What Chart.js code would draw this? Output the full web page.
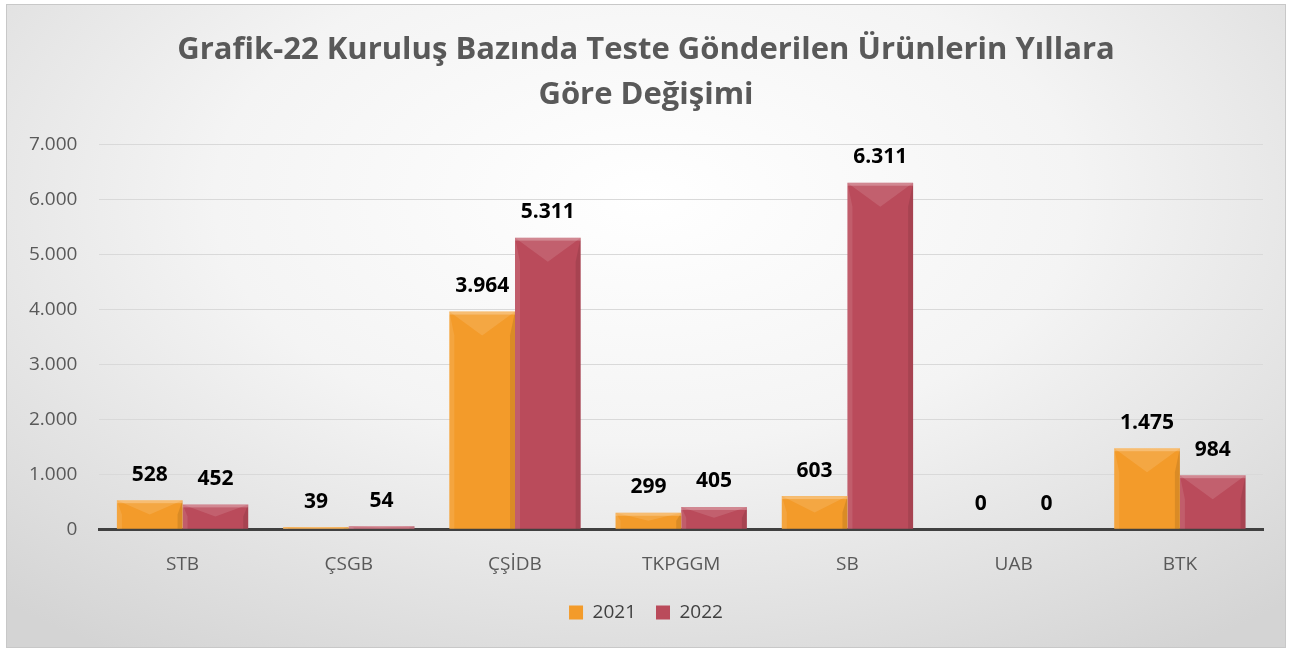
<!DOCTYPE html>
<html>
<head>
<meta charset="utf-8">
<script src="https://cdn.jsdelivr.net/npm/chart.js@4.4.1/dist/chart.umd.min.js"></script>
<style>
  html, body { margin: 0; padding: 0; background: #fff; }
  #wrap {
    position: absolute; left: 6px; top: 4px; width: 1278px; height: 642px;
    border: 1px solid #c8c8c8;
    background: radial-gradient(ellipse 75% 85% at 50% 30%, #ffffff 0%, #f4f4f4 45%, #d4d4d4 100%);
  }
  canvas { display: block; }
</style>
</head>
<body>
<div id="wrap"><canvas id="chart" width="1278" height="642"></canvas></div>
<script>
var categories = ["STB", "ÇSGB", "ÇŞİDB", "TKPGGM", "SB", "UAB", "BTK"];
var values2021 = [528, 39, 3964, 299, 603, 0, 1475];
var values2022 = [452, 54, 5311, 405, 6311, 0, 984];
var seriesNames = ["2021", "2022"];
var titleLines = ["Grafik-22 Kuruluş Bazında Teste Gönderilen Ürünlerin Yıllara", "Göre Değişimi"];

var fontName = "'Open Sans', 'Liberation Sans', sans-serif";

function fmt(v) {
  return v.toString().replace(/\B(?=(\d{3})+(?!\d))/g, ".");
}

// bevel look on the bars
var bevelPlugin = {
  id: "bevel",
  afterDatasetsDraw: function (chart) {
    var ctx = chart.ctx;
    chart.data.datasets.forEach(function (ds, i) {
      var meta = chart.getDatasetMeta(i);
      meta.data.forEach(function (bar) {
        var w = bar.width;
        var l = bar.x - w / 2, r = bar.x + w / 2;
        var t = bar.y, b = bar.base;
        var h = b - t;
        if (h < 1) return;
        var d = Math.min(w / 2, h / 2, 24);
        var s = Math.min(5, w / 4);
        ctx.save();
        // top facet
        ctx.beginPath();
        ctx.moveTo(l, t); ctx.lineTo(r, t); ctx.lineTo(bar.x, t + d); ctx.closePath();
        ctx.fillStyle = "rgba(255,255,255,0.12)";
        ctx.fill();
        // left side
        ctx.beginPath();
        ctx.moveTo(l, t); ctx.lineTo(l + s, t + d); ctx.lineTo(l + s, b); ctx.lineTo(l, b); ctx.closePath();
        ctx.fillStyle = "rgba(255,255,255,0.10)";
        ctx.fill();
        // right side
        ctx.beginPath();
        ctx.moveTo(r, t); ctx.lineTo(r - s, t + d); ctx.lineTo(r - s, b); ctx.lineTo(r, b); ctx.closePath();
        ctx.fillStyle = "rgba(0,0,0,0.10)";
        ctx.fill();
        // top edge highlight
        ctx.fillStyle = "rgba(255,255,255,0.25)";
        ctx.fillRect(l, t, w, Math.min(3, h));
        ctx.restore();
      });
    });
  }
};

// value labels above bars
var labelPlugin = {
  id: "valueLabels",
  afterDatasetsDraw: function (chart) {
    var ctx = chart.ctx;
    ctx.save();
    ctx.font = "bold 21px " + fontName;
    ctx.fillStyle = "#000000";
    ctx.textAlign = "center";
    ctx.textBaseline = "bottom";
    chart.data.datasets.forEach(function (ds, i) {
      var meta = chart.getDatasetMeta(i);
      meta.data.forEach(function (bar, j) {
        ctx.fillText(fmt(ds.data[j]), bar.x, bar.y - 15);
      });
    });
    ctx.restore();
  }
};

var ctx = document.getElementById("chart").getContext("2d");
var chart = new Chart(ctx, {
  type: "bar",
  data: {
    labels: categories,
    datasets: [
      {
        label: seriesNames[0],
        data: values2021,
        backgroundColor: "#F39B2A",
        borderWidth: 0
      },
      {
        label: seriesNames[1],
        data: values2022,
        backgroundColor: "#BA4B5B",
        borderWidth: 0
      }
    ]
  },
  options: {
    responsive: false,
    animation: false,
    layout: { padding: { left: 0, right: 0, top: 0, bottom: 15 } },
    categoryPercentage: 0.79,
    barPercentage: 1.0,
    scales: {
      x: {
        grid: { display: false, drawTicks: false },
        border: { color: "#404040", width: 3 },
        ticks: { color: "#595959", font: { family: fontName, size: 19 }, padding: 24 },
        afterFit: function (scale) { scale.height -= 17; }
      },
      y: {
        min: 0,
        max: 7000,
        ticks: {
          stepSize: 1000,
          color: "#595959",
          font: { family: fontName, size: 19 },
          padding: 22,
          callback: function (v) { return fmt(v); }
        },
        grid: { color: "#d9d9d9", lineWidth: 1, drawTicks: false },
        border: { display: false }
      },
      // empty spacer on the right so title and legend stay centred on the whole chart
      yRight: {
        position: "right",
        min: 0,
        max: 7000,
        grid: { display: false, drawTicks: false },
        border: { display: false },
        ticks: { display: false },
        afterFit: function (scale) { scale.width = 22; }
      }
    },
    plugins: {
      title: {
        display: true,
        text: titleLines,
        color: "#595959",
        font: { family: fontName, size: 31, weight: "bold", lineHeight: 1.45 },
        padding: { top: 23, bottom: 27 }
      },
      legend: {
        position: "bottom",
        labels: {
          color: "#404040",
          font: { family: fontName, size: 19 },
          boxWidth: 14,
          boxHeight: 14,
          padding: 20
        }
      },
      tooltip: { enabled: false }
    }
  },
  plugins: [bevelPlugin, labelPlugin]
});
</script>
</body>
</html>
